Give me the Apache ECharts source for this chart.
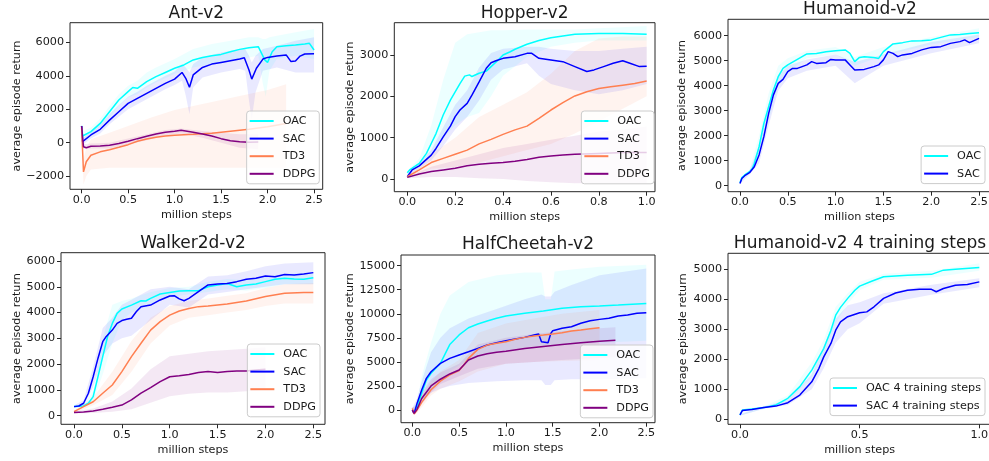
<!DOCTYPE html>
<html><head><meta charset="utf-8">
<script src="https://cdn.jsdelivr.net/npm/echarts@6/dist/echarts.min.js"></script>
<style>html,body{margin:0;padding:0;background:#fff}#c{width:989px;height:461px}</style>
</head><body><div id="c"></div>
<script>
// ---------------- DATA ----------------
const titles = ['Ant-v2','Hopper-v2','Humanoid-v2','Walker2d-v2','HalfCheetah-v2','Humanoid-v2 4 training steps'];
const xAxisName = 'million steps';
const yAxisName = 'average episode return';

const antXTicks = [0,0.5,1,1.5,2,2.5];
const antYTicks = [-2000,0,2000,4000,6000];
const hopXTicks = [0,0.2,0.4,0.6,0.8,1.0];
const hopYTicks = [0,1000,2000,3000];
const humXTicks = [0,0.5,1,1.5,2,2.5];
const humYTicks = [0,1000,2000,3000,4000,5000,6000];
const walXTicks = [0,0.5,1,1.5,2,2.5];
const walYTicks = [0,1000,2000,3000,4000,5000,6000];
const hcXTicks = [0,0.5,1,1.5,2,2.5];
const hcYTicks = [0,2500,5000,7500,10000,12500,15000];
const h4XTicks = [0,0.5,1.0];
const h4YTicks = [0,1000,2000,3000,4000,5000];

// Ant-v2
const antOAC_x = [0,0.01,0.1,0.2,0.3,0.4,0.5,0.55,0.6,0.7,0.8,0.9,1.0,1.1,1.2,1.3,1.4,1.5,1.6,1.7,1.8,1.9,1.92,1.97,2.0,2.05,2.1,2.2,2.3,2.4,2.45,2.5];
const antOAC_y = [1000,400,660,1150,1850,2550,3050,3300,3250,3650,3950,4200,4450,4650,4950,5100,5200,5280,5440,5580,5680,5740,5700,4950,4800,5440,5740,5800,5840,5900,5940,5540];
const antOAC_bx = [0,0.02,0.1,0.2,0.3,0.4,0.5,0.6,0.7,0.8,0.9,1.0,1.2,1.4,1.6,1.8,1.9,1.95,1.98,2.02,2.1,2.3,2.5];
const antOAC_lo = [800,200,450,900,1500,2200,2700,2900,3300,3600,3850,4100,4500,4700,4900,5100,5200,3500,2750,4300,5000,5200,5000];
const antOAC_hi = [1100,700,900,1450,2200,2900,3400,3700,4200,4500,4750,5000,5600,5900,6100,6300,6300,6200,6200,6300,6400,6600,6800];
const antSAC_x = [0,0.01,0.1,0.2,0.3,0.4,0.5,0.6,0.7,0.8,0.9,1.0,1.08,1.12,1.16,1.2,1.3,1.4,1.5,1.6,1.7,1.75,1.8,1.83,1.88,1.95,2.0,2.1,2.2,2.25,2.3,2.35,2.4,2.5];
const antSAC_y = [1000,60,460,800,1350,1850,2350,2650,2950,3250,3550,3800,4200,3850,3310,4050,4500,4700,4800,4900,5000,5080,4350,3800,4450,5000,5100,5180,5250,4860,4880,5180,5300,5320];
const antSAC_bx = [0,0.02,0.1,0.2,0.3,0.4,0.5,0.6,0.7,0.8,0.9,1.0,1.08,1.12,1.16,1.2,1.3,1.5,1.7,1.76,1.8,1.83,1.87,1.95,2.1,2.3,2.5];
const antSAC_lo = [800,-100,250,550,1100,1550,2000,2300,2600,2900,3200,3450,3700,2800,1700,3300,3900,4200,4400,4300,2500,1400,3000,4300,4500,4200,4200];
const antSAC_hi = [1100,300,700,1100,1700,2250,2750,3050,3400,3700,4000,4250,4700,4500,4200,4700,5100,5400,5600,5600,5200,4800,5200,5600,5800,6100,6300];
const antTD3_x = [0,0.02,0.05,0.1,0.2,0.3,0.4,0.5,0.6,0.7,0.8,0.9,1.0,1.2,1.4,1.5,1.6,1.8,2.0,2.2];
const antTD3_y = [900,-1750,-1140,-750,-550,-420,-280,-120,80,220,330,400,450,500,560,620,680,800,950,1150];
const antTD3_bx = [0,0.02,0.05,0.1,0.3,0.5,0.75,1.0,1.25,1.5,1.75,2.0,2.2];
const antTD3_lo = [800,-2500,-2000,-1600,-1500,-1500,-1500,-1500,-1500,-1500,-1500,-1500,-1500];
const antTD3_hi = [1000,-1000,-300,200,600,1000,1500,1950,2250,2550,2850,3150,3500];
const antDDPG_x = [0,0.02,0.05,0.1,0.2,0.3,0.4,0.5,0.6,0.7,0.8,0.9,1.0,1.07,1.2,1.3,1.4,1.5,1.6,1.7,1.8,1.9];
const antDDPG_y = [1000,-240,-300,-220,-200,-150,-50,80,240,380,520,620,680,740,620,520,400,240,120,60,20,40];
const antDDPG_bx = [0,0.02,0.1,0.3,0.5,0.7,0.9,1.07,1.3,1.5,1.7,1.9];
const antDDPG_lo = [900,-400,-350,-350,-100,150,450,550,300,0,-300,-400];
const antDDPG_hi = [1000,-100,-50,0,250,500,750,850,700,600,500,500];

// Hopper-v2
const hopOAC_x = [0,0.01,0.05,0.08,0.1,0.12,0.15,0.18,0.2,0.22,0.24,0.26,0.27,0.3,0.33,0.35,0.38,0.4,0.43,0.45,0.5,0.55,0.6,0.65,0.7,0.8,0.9,1.0];
const hopOAC_y = [150,220,380,620,860,1100,1550,1910,2110,2310,2490,2520,2480,2560,2610,2720,2880,3000,3080,3140,3260,3350,3420,3460,3500,3520,3520,3500];
const hopOAC_bx = [0,0.05,0.1,0.15,0.2,0.25,0.3,0.35,0.4,0.5,0.6,0.7,0.8,1.0];
const hopOAC_lo = [100,300,600,1000,1300,1500,1600,2000,2500,2950,3200,3300,3350,3350];
const hopOAC_hi = [200,500,1300,2400,3300,3500,3550,3600,3600,3620,3620,3620,3650,3700];
const hopSAC_x = [0,0.02,0.05,0.08,0.1,0.12,0.15,0.18,0.2,0.22,0.25,0.27,0.3,0.33,0.35,0.37,0.4,0.45,0.5,0.52,0.55,0.6,0.65,0.7,0.75,0.78,0.82,0.86,0.9,0.93,0.97,1.0];
const hopSAC_y = [56,220,320,475,580,740,1020,1280,1510,1670,1830,2030,2350,2680,2815,2860,2920,2960,3040,3040,2920,2880,2840,2720,2600,2640,2720,2800,2860,2800,2720,2730];
const hopSAC_bx = [0,0.05,0.1,0.15,0.2,0.25,0.3,0.35,0.4,0.5,0.55,0.6,0.7,0.8,0.9,1.0];
const hopSAC_lo = [30,250,450,800,1200,1500,1900,2400,2650,2800,2500,2300,2150,2050,2150,2300];
const hopSAC_hi = [100,400,700,1250,1800,2150,2700,3050,3150,3200,3200,3150,3100,3100,3150,3200];
const hopTD3_x = [0,0.05,0.1,0.15,0.2,0.25,0.3,0.35,0.4,0.45,0.5,0.55,0.6,0.65,0.7,0.75,0.8,0.85,0.9,0.95,1.0];
const hopTD3_y = [56,220,400,500,600,700,850,960,1080,1190,1280,1470,1670,1850,2010,2110,2190,2230,2270,2310,2370];
const hopTD3_bx = [0,0.1,0.2,0.3,0.4,0.5,0.6,0.7,0.8,0.9,1.0];
const hopTD3_lo = [30,250,300,400,550,700,850,1100,1400,1700,2000];
const hopTD3_hi = [100,600,1000,1500,1800,2100,2550,3100,3400,3450,3450];
const hopDDPG_x = [0,0.05,0.1,0.15,0.2,0.25,0.3,0.35,0.4,0.45,0.5,0.55,0.6,0.65,0.7,0.8,0.9,1.0];
const hopDDPG_y = [40,120,180,220,260,320,360,380,400,430,475,525,555,580,600,620,640,640];
const hopDDPG_bx = [0,0.1,0.2,0.3,0.4,0.5,0.6,0.7,0.8,0.9,1.0];
const hopDDPG_lo = [20,50,50,20,0,-50,-80,-100,-100,-100,-100];
const hopDDPG_hi = [60,300,450,600,750,850,950,1050,1150,1200,1270];

// Humanoid-v2
const humOAC_x = [0,0.02,0.05,0.1,0.13,0.15,0.2,0.25,0.3,0.35,0.4,0.45,0.5,0.6,0.7,0.8,0.9,1.0,1.1,1.15,1.2,1.25,1.3,1.4,1.45,1.5,1.6,1.7,1.8,1.9,2.0,2.1,2.2,2.3,2.4,2.5];
const humOAC_y = [120,330,430,560,690,890,1560,2490,3160,3830,4360,4690,4830,5050,5270,5290,5360,5400,5430,5290,4960,5130,5160,5130,5090,5360,5670,5720,5790,5800,5830,5930,6030,6050,6090,6120];
const humSAC_x = [0,0.02,0.05,0.1,0.15,0.2,0.25,0.3,0.35,0.4,0.45,0.5,0.55,0.6,0.7,0.75,0.8,0.9,0.95,1.0,1.1,1.15,1.2,1.3,1.4,1.45,1.5,1.55,1.6,1.65,1.7,1.8,1.9,2.0,2.1,2.2,2.3,2.35,2.4,2.5];
const humSAC_y = [90,290,400,520,760,1230,1960,2890,3630,4090,4250,4560,4690,4690,4830,4960,4890,4920,5050,5030,5030,4830,4630,4650,4760,4830,5030,5360,5290,5160,5230,5290,5430,5530,5560,5690,5760,5830,5720,5890];
const humBand_x = [0,0.1,0.2,0.3,0.4,0.5,0.7,1.0,1.2,1.5,2.0,2.5];
const humOAC_lo = [100,500,1200,2600,4000,4550,5100,5250,4800,5200,5650,5950];
const humOAC_hi = [150,650,2000,3700,4800,5100,5400,5550,5150,5550,5950,6300];
const humSAC_lo = [70,450,900,2400,3800,4300,4600,4800,4100,4800,5300,5700];
const humSAC_hi = [110,600,1600,3300,4400,4800,5050,5250,4950,5250,5750,6050];

// Walker2d-v2
const walOAC_x = [0,0.1,0.15,0.2,0.25,0.3,0.35,0.4,0.45,0.5,0.6,0.7,0.75,0.8,0.9,1.0,1.1,1.2,1.3,1.4,1.5,1.6,1.7,1.8,1.9,2.0,2.1,2.2,2.3,2.4,2.5];
const walOAC_y = [350,375,480,740,1510,2290,3060,3580,3970,4140,4290,4460,4450,4550,4720,4780,4840,4850,4850,5000,5070,5130,5000,5070,5110,5200,5290,5330,5300,5290,5350];
const walSAC_x = [0,0.05,0.1,0.15,0.2,0.25,0.3,0.33,0.35,0.4,0.45,0.5,0.55,0.6,0.65,0.7,0.8,0.9,1.0,1.05,1.1,1.15,1.2,1.3,1.4,1.5,1.6,1.7,1.8,1.9,2.0,2.1,2.2,2.3,2.4,2.5];
const walSAC_y = [350,375,480,870,1510,2220,2870,3040,3060,3320,3580,3690,3740,3780,4030,4230,4290,4490,4640,4650,4530,4460,4550,4810,5070,5110,5130,5200,5290,5330,5420,5390,5480,5460,5500,5550];
const walBand_x = [0,0.1,0.2,0.3,0.4,0.5,0.6,0.8,1.0,1.2,1.4,1.6,1.8,2.0,2.2,2.5];
const walOAC_lo = [300,330,550,1600,2800,3700,4000,4300,4600,4700,4800,4900,4850,4950,5100,5100];
const walOAC_hi = [400,450,950,3000,4300,4450,4550,4800,4950,5000,5200,5300,5250,5400,5500,5550];
const walSAC_lo = [300,400,1100,2300,2800,3000,3100,3700,4300,4200,4700,4800,4900,5000,5100,5100];
const walSAC_hi = [400,600,1900,3400,3800,4300,4500,4900,5000,4900,5400,5450,5600,5800,5900,5950];
const walTD3_x = [0,0.1,0.2,0.3,0.4,0.5,0.6,0.7,0.8,0.9,1.0,1.1,1.2,1.3,1.4,1.6,1.8,2.0,2.2,2.4,2.5];
const walTD3_y = [155,350,540,870,1190,1710,2290,2810,3320,3650,3900,4060,4160,4230,4250,4330,4450,4620,4750,4780,4780];
const walTD3_bx = [0,0.2,0.4,0.6,0.8,1.0,1.2,1.4,1.6,1.8,2.0,2.2,2.5];
const walTD3_lo = [100,400,800,1700,2800,3500,3800,3900,4000,4100,4250,4350,4350];
const walTD3_hi = [200,700,1700,2900,3800,4250,4450,4550,4650,4750,4950,5100,5150];
const walDDPG_x = [0,0.1,0.2,0.3,0.4,0.5,0.6,0.7,0.8,0.9,1.0,1.1,1.2,1.3,1.4,1.5,1.6,1.7,1.8,1.9,2.0];
const walDDPG_y = [120,140,180,245,325,410,610,870,1090,1320,1510,1550,1600,1670,1710,1670,1710,1730,1730,1770,1800];
const walDDPG_bx = [0,0.2,0.4,0.6,0.8,1.0,1.2,1.4,1.6,1.8,2.0];
const walDDPG_lo = [80,100,150,250,500,750,850,900,900,950,1000];
const walDDPG_hi = [160,280,550,1050,1800,2300,2400,2500,2550,2600,2650];

// HalfCheetah-v2
const hcOAC_x = [0,0.02,0.05,0.1,0.15,0.2,0.3,0.4,0.5,0.6,0.7,0.8,0.9,1.0,1.2,1.4,1.6,1.8,2.0,2.2,2.5];
const hcOAC_y = [0,-280,350,1730,3120,3810,4850,6800,7800,8550,8940,9250,9530,9770,10050,10290,10570,10740,10810,10910,11080];
const hcSAC_x = [0,0.02,0.05,0.1,0.15,0.2,0.3,0.4,0.5,0.6,0.7,0.8,0.9,1.0,1.1,1.2,1.3,1.35,1.38,1.45,1.48,1.5,1.6,1.7,1.8,1.9,2.0,2.1,2.2,2.3,2.4,2.5];
const hcSAC_y = [0,-350,690,2080,3290,3980,4850,5370,5720,6060,6410,6750,7000,7210,7380,7550,7790,7900,7100,7000,7970,8240,8490,8660,9010,9280,9420,9530,9770,9870,10050,10120];
const hcBand_x = [0,0.05,0.1,0.2,0.3,0.4,0.6,0.9,1.2,1.38,1.42,1.48,1.52,1.7,2.0,2.5];
const hcOAC_lo = [-300,0,800,2000,3000,4000,5200,6000,6500,6700,6700,6700,6700,6800,7000,7200];
const hcOAC_hi = [200,800,3500,7000,10000,11900,13300,14000,14300,14300,11500,11500,14400,14600,14900,15100];
const hcSAC_lo = [-300,300,1000,1800,2200,2500,2800,3000,3100,3100,2600,2600,3100,3200,3200,3300];
const hcSAC_hi = [200,1200,3000,6000,7500,8500,9500,10500,11500,12000,11800,11800,12300,13000,14000,14700];
const hcTD3_x = [0,0.02,0.05,0.1,0.2,0.3,0.4,0.5,0.55,0.6,0.7,0.8,0.9,1.0,1.1,1.2,1.3,1.4,1.5,1.6,1.7,1.8,1.9,2.0];
const hcTD3_y = [170,-420,0,800,2100,3000,3650,4100,4680,5370,6300,6750,6950,7100,7350,7550,7700,7790,7900,8040,8210,8310,8450,8560];
const hcTD3_bx = [0,0.05,0.1,0.2,0.3,0.5,0.7,1.0,1.3,1.6,2.0];
const hcTD3_lo = [-300,-300,300,1500,2200,3000,4000,4800,5000,5100,5200];
const hcTD3_hi = [300,500,1500,3000,4000,5200,8000,9000,9500,10000,10400];
const hcDDPG_x = [0,0.02,0.05,0.1,0.2,0.3,0.4,0.5,0.55,0.6,0.7,0.8,0.9,1.0,1.2,1.4,1.6,1.8,2.0,2.17];
const hcDDPG_y = [0,-350,70,1200,2500,3200,3750,4160,4680,5200,5610,5850,6000,6100,6400,6600,6800,6980,7150,7250];
const hcDDPG_bx = [0,0.05,0.1,0.2,0.3,0.5,0.7,1.0,1.3,1.6,2.0,2.17];
const hcDDPG_lo = [-300,-200,600,1800,2700,3500,4300,4800,5000,5200,5400,5500];
const hcDDPG_hi = [300,400,1800,3200,3900,4800,6800,7500,7900,8200,8500,8600];

// Humanoid-v2 4 training steps
const h4OAC_x = [0,0.01,0.05,0.1,0.15,0.2,0.25,0.3,0.35,0.38,0.4,0.42,0.45,0.48,0.5,0.55,0.6,0.7,0.8,0.85,0.9,1.0];
const h4OAC_y = [145,310,345,390,480,700,1090,1640,2360,2970,3470,3730,4030,4300,4440,4600,4750,4800,4830,4970,5000,5060];
const h4SAC_x = [0,0.01,0.05,0.1,0.15,0.2,0.25,0.3,0.33,0.35,0.38,0.4,0.42,0.45,0.5,0.53,0.56,0.6,0.65,0.7,0.75,0.8,0.82,0.85,0.9,0.95,1.0];
const h4SAC_y = [145,290,330,390,440,555,810,1250,1700,2080,2530,2970,3250,3420,3550,3580,3750,4030,4210,4300,4330,4330,4250,4360,4470,4490,4580];
const h4Band_x = [0,0.1,0.2,0.3,0.35,0.4,0.45,0.5,0.6,0.8,1.0];
const h4OAC_lo = [120,350,600,1400,2100,3200,3850,4300,4650,4720,4950];
const h4OAC_hi = [170,430,800,1900,2650,3750,4200,4580,4850,4950,5200];
const h4SAC_lo = [120,350,480,1000,1700,2550,3000,3200,3850,4150,4400];
const h4SAC_hi = [170,430,650,1500,2450,3350,3800,3900,4200,4480,4700];

// ---------------- STYLE / LAYOUT ----------------
const FONT = 'DejaVu Sans';
const FS = 11.2;
const TXT = '#1a1a1a';
const C = {OAC:'#00ffff', SAC:'#0000ff', TD3:'#ff7f50', DDPG:'#800080'};
const BAND_ALPHA = {'#00ffff':0.075, '#0000ff':0.085, '#ff7f50':0.09, '#800080':0.09};
function rgba(hex,a){const n=parseInt(hex.slice(1),16);return 'rgba('+((n>>16)&255)+','+((n>>8)&255)+','+(n&255)+','+a+')';}

const panels = [
 {box:[70,22.7,322.7,189.3], xr:[-0.125,2.593], yr:[-2790,7176], xt:antXTicks, yt:antYTicks, xd:1, yGap:42, capTop:7, leg:{right:669.7, top:111},
  s:[{n:'OAC',c:C.OAC,x:antOAC_x,y:antOAC_y,bx:antOAC_bx,lo:antOAC_lo,hi:antOAC_hi},
     {n:'SAC',c:C.SAC,x:antSAC_x,y:antSAC_y,bx:antSAC_bx,lo:antSAC_lo,hi:antSAC_hi},
     {n:'TD3',c:C.TD3,x:antTD3_x,y:antTD3_y,bx:antTD3_bx,lo:antTD3_lo,hi:antTD3_hi},
     {n:'DDPG',c:C.DDPG,x:antDDPG_x,y:antDDPG_y,bx:antDDPG_bx,lo:antDDPG_lo,hi:antDDPG_hi}]},
 {box:[394.3,22.7,655,191.7], xr:[-0.0543,1.0348], yr:[-306,3782], xt:hopXTicks, yt:hopYTicks, xd:1, yGap:37, capTop:7.3, leg:{right:335, top:111},
  s:[{n:'OAC',c:C.OAC,x:hopOAC_x,y:hopOAC_y,bx:hopOAC_bx,lo:hopOAC_lo,hi:hopOAC_hi},
     {n:'SAC',c:C.SAC,x:hopSAC_x,y:hopSAC_y,bx:hopSAC_bx,lo:hopSAC_lo,hi:hopSAC_hi},
     {n:'TD3',c:C.TD3,x:hopTD3_x,y:hopTD3_y,bx:hopTD3_bx,lo:hopTD3_lo,hi:hopTD3_hi},
     {n:'DDPG',c:C.DDPG,x:hopDDPG_x,y:hopDDPG_y,bx:hopDDPG_bx,lo:hopDDPG_lo,hi:hopDDPG_hi}]},
 {box:[728,19.3,991,191.7], xr:[-0.125,2.625], yr:[-240,6653], xt:humXTicks, yt:humYTicks, xd:1, yGap:40, capTop:3.3, leg:{right:4, top:146},
  s:[{n:'OAC',c:C.OAC,x:humOAC_x,y:humOAC_y,bx:humBand_x,lo:humOAC_lo,hi:humOAC_hi},
     {n:'SAC',c:C.SAC,x:humSAC_x,y:humSAC_y,bx:humBand_x,lo:humSAC_lo,hi:humSAC_hi}]},
 {box:[61,252.7,325,424.3], xr:[-0.136,2.622], yr:[-336,6323], xt:walXTicks, yt:walYTicks, xd:1, yGap:37, capTop:237.3, leg:{right:669, top:344},
  s:[{n:'OAC',c:C.OAC,x:walOAC_x,y:walOAC_y,bx:walBand_x,lo:walOAC_lo,hi:walOAC_hi},
     {n:'SAC',c:C.SAC,x:walSAC_x,y:walSAC_y,bx:walBand_x,lo:walSAC_lo,hi:walSAC_hi},
     {n:'TD3',c:C.TD3,x:walTD3_x,y:walTD3_y,bx:walTD3_bx,lo:walTD3_lo,hi:walTD3_hi},
     {n:'DDPG',c:C.DDPG,x:walDDPG_x,y:walDDPG_y,bx:walDDPG_bx,lo:walDDPG_lo,hi:walDDPG_hi}]},
 {box:[401,255,655,422.7], xr:[-0.121,2.593], yr:[-1317,16109], xt:hcXTicks, yt:hcYTicks, xd:1, yGap:44, capTop:238.3, leg:{right:336, top:345},
  s:[{n:'OAC',c:C.OAC,x:hcOAC_x,y:hcOAC_y,bx:hcBand_x,lo:hcOAC_lo,hi:hcOAC_hi},
     {n:'SAC',c:C.SAC,x:hcSAC_x,y:hcSAC_y,bx:hcBand_x,lo:hcSAC_lo,hi:hcSAC_hi},
     {n:'TD3',c:C.TD3,x:hcTD3_x,y:hcTD3_y,bx:hcTD3_bx,lo:hcTD3_lo,hi:hcTD3_hi},
     {n:'DDPG',c:C.DDPG,x:hcDDPG_x,y:hcDDPG_y,bx:hcDDPG_bx,lo:hcDDPG_lo,hi:hcDDPG_hi}]},
 {box:[728,253.3,991.3,424.3], xr:[-0.05,1.05], yr:[-166,5532], xt:h4XTicks, yt:h4YTicks, xd:1, yGap:39, capTop:236.7, leg:{right:4, top:378},
  s:[{n:'OAC 4 training steps',c:C.OAC,x:h4OAC_x,y:h4OAC_y,bx:h4Band_x,lo:h4OAC_lo,hi:h4OAC_hi},
     {n:'SAC 4 training steps',c:C.SAC,x:h4SAC_x,y:h4SAC_y,bx:h4Band_x,lo:h4SAC_lo,hi:h4SAC_hi}]}
];

const txt = {fontFamily:FONT, fontSize:FS, color:TXT};
function yfmt(v){ return v<0 ? '\u2212'+(-v) : String(v); }

const option = {animation:false, backgroundColor:'#ffffff', title:[], grid:[], xAxis:[], yAxis:[], legend:[], series:[]};

panels.forEach((p,i)=>{
  const [l,t,r,b] = p.box;
  option.grid.push({left:l, top:t, width:r-l, height:b-t, show:true, borderColor:'#262626', borderWidth:1,
    backgroundColor:'rgba(0,0,0,0)', containLabel:false, outerBoundsMode:'none'});
  option.title.push({text:titles[i], left:(l+Math.min(r,989))/2 + (i===2||i===5 ? 1.5 : 0), top:p.capTop-3.5, textAlign:'center', padding:0,
    textStyle:{fontFamily:FONT, fontSize:17, fontWeight:'normal', color:TXT, lineHeight:20}});
  option.xAxis.push({type:'value', gridIndex:i, min:p.xr[0], max:p.xr[1],
    splitLine:{show:false}, axisLine:{show:false, onZero:false},
    axisTick:{show:true, length:4, inside:false, customValues:p.xt, lineStyle:{color:'#262626'}},
    axisLabel:{customValues:p.xt, formatter:v=>v.toFixed(p.xd), margin:5, ...txt},
    name:xAxisName, nameLocation:'middle', nameGap:20, nameTextStyle:{...txt}});
  option.yAxis.push({type:'value', gridIndex:i, min:p.yr[0], max:p.yr[1],
    splitLine:{show:false}, axisLine:{show:false, onZero:false},
    axisTick:{show:true, length:4, inside:false, customValues:p.yt, lineStyle:{color:'#262626'}},
    axisLabel:{customValues:p.yt, formatter:yfmt, margin:6, ...txt},
    name:yAxisName, nameLocation:'middle', nameGap:p.yGap, nameTextStyle:{...txt}});
  option.legend.push({orient:'vertical', right:p.leg.right, top:p.leg.top, data:p.s.map(s=>s.n),
    icon:'rect', itemWidth:24, itemHeight:2, itemGap:3.6, selectedMode:false,
    itemStyle:{borderWidth:0},
    textStyle:{...txt, lineHeight:14, padding:[0,0,0,4]},
    padding:[3,4,3,3], backgroundColor:'rgba(255,255,255,0.8)', borderColor:'#cccccc', borderWidth:1, borderRadius:3, z:10});
  // bands
  p.s.forEach(s=>{
    const bx=s.bx, lo=s.lo, hi=s.hi;
    option.series.push({type:'custom', name:s.n+' band', xAxisIndex:i, yAxisIndex:i, silent:true, z:1,
      data:bx.map((x,k)=>[x, lo[k], hi[k]]), encode:{x:0, y:[1,2]},
      renderItem:(params, api)=>{
        if (params.dataIndex !== 0) return null;
        const pts=[];
        for (let k=0;k<bx.length;k++) pts.push(api.coord([bx[k], hi[k]]));
        for (let k=bx.length-1;k>=0;k--) pts.push(api.coord([bx[k], lo[k]]));
        return {type:'polygon', shape:{points:pts}, style:{fill:rgba(s.c,BAND_ALPHA[s.c])}};
      }});
  });
  // lines
  p.s.forEach(s=>{
    option.series.push({type:'line', name:s.n, xAxisIndex:i, yAxisIndex:i, z:3,
      data:s.x.map((x,k)=>[x, s.y[k]]), showSymbol:false, symbol:'none', color:s.c,
      lineStyle:{width:1.5, color:s.c}, itemStyle:{color:s.c}});
  });
});

const chart = echarts.init(document.getElementById('c'), null, {renderer:'canvas'});
chart.setOption(option);
</script></body></html>
